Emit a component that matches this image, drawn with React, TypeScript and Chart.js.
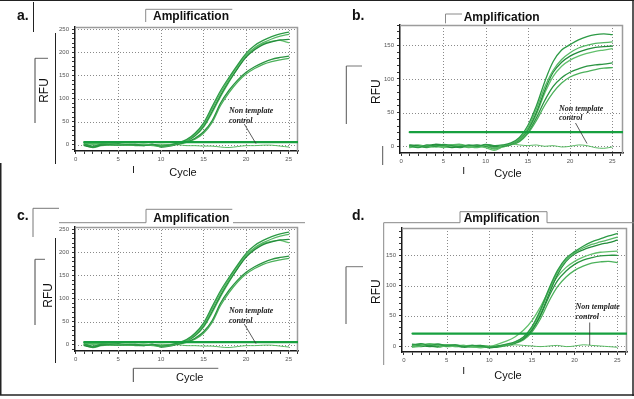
import React, { useEffect, useRef } from 'react';
import { Chart, registerables } from 'chart.js';

Chart.register(...registerables);

// ---------- data ----------
const cycles = [1, 2, 3, 4, 5, 6, 7, 8, 9, 10, 11, 12, 13, 14, 15, 16, 17, 18, 19, 20, 21, 22, 23, 24, 25];

const xTickLabels = [0, 5, 10, 15, 20, 25];
const yTicksAC = [0, 50, 100, 150, 200, 250];
const yTicksBD = [0, 50, 100, 150];

// panels a and c (same run)
const aCurve1 = [2, -4, 1, 0, -1, 0, 1, -2, 0, -3, -1, 4, 11, 25, 47, 82, 117, 146, 173, 198, 215, 226, 234, 240, 244];
const aCurve2 = [4, 1, 3, 2, 0, -1, 0, 1, -1, -4, -2, 3, 9, 22, 43, 77, 112, 142, 170, 194, 210, 221, 229, 235, 239];
const aCurve3 = [-2, -5, -1, 1, 2, 0, -1, -2, 1, -5, -3, 2, 8, 20, 40, 72, 107, 138, 165, 190, 206, 217, 223, 227, 228];
const aCurve4 = [0, 3, 1, -1, 0, 1, 0, 0, -2, -2, 0, 3, 8, 19, 38, 69, 104, 136, 166, 193, 209, 219, 224, 226, 221];
const aCurve5 = [1, -3, 0, 2, 1, -1, 0, -1, 0, -2, 0, 2, 6, 14, 28, 52, 90, 118, 140, 157, 169, 178, 185, 189, 192];
const aCurve6 = [-1, -6, -2, 0, 1, 0, -2, -1, 0, -3, -1, 1, 5, 12, 25, 48, 85, 113, 136, 153, 165, 174, 180, 184, 187];
const aNtc = [0, 2, 1, -1, 0, 1, 0, -1, 0, 1, 0, 0, -2, -2, -3, -3, -5, -6, -4, -2, -2, -1, -1, -3, -5];
const aThreshold = 5.5;

// panel b
const bCurve1 = [1, -2, 2, 0, 3, 1, -1, 2, 0, 3, 1, 2, 5, 13, 31, 60, 96, 126, 143, 151, 158, 163, 166, 167, 166];
const bCurve2 = [-2, 0, 1, -1, 0, 2, 3, 0, -2, 1, -3, 1, 4, 11, 27, 55, 88, 113, 129, 139, 146, 150, 153, 154, 155];
const bCurve3 = [2, 1, -1, 2, 1, -2, 0, 1, 2, 0, -1, 0, 3, 10, 25, 50, 83, 110, 125, 134, 140, 144, 147, 148, 149];
const bCurve4 = [-1, 2, 0, 1, -2, 0, 1, -1, 0, -2, -6, -1, 3, 9, 23, 47, 79, 104, 119, 128, 134, 138, 141, 143, 145];
const bCurve5 = [0, -1, 1, 3, 2, 0, -2, 1, -1, 2, 0, 0, 3, 8, 21, 42, 68, 89, 102, 110, 115, 119, 121, 122, 124];
const bCurve6 = [1, 0, -2, 0, 1, 2, 1, -2, 1, 0, -4, -1, 2, 7, 19, 38, 61, 80, 94, 103, 108, 111, 114, 116, 117];
const bNtc = [0, 1, -1, 2, 0, -1, 1, 0, -1, 2, 1, 0, 3, 2, 1, 2, 0, 1, -1, 0, 2, 1, -2, -3, -1];
const bThreshold = 21;

// panel d
const dCurve1 = [2, 4, 1, 3, 0, 2, -1, 1, 0, -2, 0, 3, 7, 15, 32, 60, 95, 125, 145, 156, 165, 172, 177, 182, 186];
const dCurve2 = [-2, 0, 3, 1, 2, 0, 1, -1, -2, -1, 0, 2, 6, 14, 30, 57, 92, 122, 142, 154, 162, 168, 172, 176, 180];
const dCurve3 = [3, 1, -1, 0, 2, 1, -2, 0, 1, -3, -1, 2, 5, 12, 27, 52, 86, 118, 140, 152, 159, 164, 168, 171, 175];
const dCurve4 = [0, 2, 4, 2, -1, 0, 1, -1, -3, -1, 3, 8, 15, 26, 42, 65, 92, 115, 130, 140, 147, 152, 155, 156, 157];
const dCurve5 = [1, -1, 2, 3, 1, -1, 0, 1, -1, -2, -1, 2, 5, 12, 26, 50, 82, 108, 124, 135, 142, 146, 149, 150, 150];
const dCurve6 = [-1, 3, 0, -2, 1, 2, 0, -2, 0, -1, -2, 1, 4, 10, 23, 45, 74, 98, 114, 125, 132, 137, 139, 140, 138];
const dNtc = [0, 1, 2, 0, -1, 1, 0, -1, 1, 0, -1, 0, 2, 1, 0, -1, 0, 1, -1, 0, 2, 1, 0, -1, -2];
const dThreshold = 20.5;

// ---------- styles ----------
const curveColors = ['#2c9a45', '#55b864', '#238c3b', '#62c06c', '#2a9441', '#4cb15b'];
const ntcColor = '#58b962';
const thresholdColor = '#17a03f';
const SANS = '"Liberation Sans", Arial, sans-serif';
const SERIF = '"Liberation Serif", "Times New Roman", serif';

const gridFramePlugin = {
  id: 'gridFrame',
  beforeDatasetsDraw(chart: any, _args: any, opts: any) {
    const { ctx, chartArea: a, scales } = chart;
    const x = scales.x;
    const y = scales.y;
    ctx.save();
    ctx.strokeStyle = '#8a8a8a';
    ctx.lineWidth = 1;
    ctx.setLineDash([1, 2]);
    for (const v of opts.xGrid || []) {
      const px = Math.round(x.getPixelForValue(v)) + 0.5;
      ctx.beginPath();
      ctx.moveTo(px, a.top);
      ctx.lineTo(px, a.bottom);
      ctx.stroke();
    }
    for (const v of opts.yGrid || []) {
      const py = Math.round(y.getPixelForValue(v)) + 0.5;
      ctx.beginPath();
      ctx.moveTo(a.left, py);
      ctx.lineTo(a.right, py);
      ctx.stroke();
    }
    ctx.setLineDash([]);
    ctx.strokeStyle = '#9c9c9c';
    ctx.lineWidth = 1.5;
    ctx.beginPath();
    ctx.moveTo(a.left, a.top + 0.5);
    ctx.lineTo(a.right - 0.5, a.top + 0.5);
    ctx.lineTo(a.right - 0.5, a.bottom);
    ctx.stroke();
    ctx.restore();
  },
};

type Area = { l: number; t: number; r: number; b: number };
type PanelProps = {
  area: Area;
  xRange: [number, number];
  yRange: [number, number];
  curves: number[][];
  ntc: number[];
  threshold: number;
  yLabels: number[];
};

const AX_W = 30;
const PAD_T = 6;
const PAD_R = 6;
const AX_H = 16;

function Panel({ area, xRange, yRange, curves, ntc, threshold, yLabels }: PanelProps) {
  const ref = useRef<HTMLCanvasElement>(null);
  const width = area.r - area.l + AX_W + PAD_R;
  const height = area.b - area.t + PAD_T + AX_H;

  useEffect(() => {
    const toPts = (vals: number[]) => cycles.map((c, i) => ({ x: c, y: vals[i] }));
    const datasets: any[] = [
      {
        data: [{ x: cycles[0], y: threshold }, { x: xRange[1], y: threshold }],
        borderColor: thresholdColor,
        borderWidth: 2.2,
        tension: 0,
        order: 0,
      },
      ...curves.map((vals, i) => ({
        data: toPts(vals),
        borderColor: curveColors[i % curveColors.length],
        borderWidth: 1.3,
        order: 1,
      })),
      { data: toPts(ntc), borderColor: ntcColor, borderWidth: 1, order: 2 },
    ];

    const tickFont = { size: 6, family: SANS };
    const zeroPad = (s: any) => {
      s.paddingLeft = 0;
      s.paddingRight = 0;
      s.paddingTop = 0;
      s.paddingBottom = 0;
    };

    const chart = new Chart(ref.current as HTMLCanvasElement, {
      type: 'line',
      data: { datasets },
      plugins: [gridFramePlugin as any],
      options: {
        responsive: false,
        maintainAspectRatio: false,
        animation: false,
        devicePixelRatio: 1,
        layout: { padding: { top: PAD_T, right: PAD_R, left: 0, bottom: 0 } },
        elements: {
          point: { radius: 0, hoverRadius: 0 },
          line: { tension: 0.35, fill: false, borderCapStyle: 'round' },
        },
        plugins: {
          legend: { display: false },
          tooltip: { enabled: false },
          title: { display: false },
          gridFrame: { xGrid: xTickLabels.filter((v) => v !== 0), yGrid: yLabels },
        } as any,
        scales: {
          x: {
            type: 'linear',
            min: xRange[0],
            max: xRange[1],
            afterFit: (s: any) => {
              s.height = AX_H;
              zeroPad(s);
            },
            ticks: {
              stepSize: 1,
              autoSkip: false,
              includeBounds: false,
              maxRotation: 0,
              minRotation: 0,
              padding: 2,
              color: '#555',
              font: tickFont,
              callback: (v: any) => (xTickLabels.includes(Number(v)) ? String(v) : ''),
            },
            grid: { drawOnChartArea: false, drawTicks: true, tickLength: 3, tickColor: '#333', tickWidth: 1 },
            border: { display: true, color: '#1a1a1a', width: 1.5 },
          },
          y: {
            type: 'linear',
            min: yRange[0],
            max: yRange[1],
            afterFit: (s: any) => {
              s.width = AX_W;
              zeroPad(s);
            },
            ticks: {
              stepSize: 10,
              autoSkip: false,
              includeBounds: false,
              padding: 3,
              color: '#555',
              font: tickFont,
              callback: (v: any) => (yLabels.includes(Number(v)) ? String(v) : ''),
            },
            grid: { drawOnChartArea: false, drawTicks: true, tickLength: 3, tickColor: '#333', tickWidth: 1 },
            border: { display: true, color: '#1a1a1a', width: 1.5 },
          },
        } as any,
      },
    });
    return () => chart.destroy();
  }, []);

  return (
    <canvas
      ref={ref}
      width={width}
      height={height}
      style={{ position: 'absolute', left: area.l - AX_W, top: area.t - PAD_T, width, height }}
    />
  );
}

type Seg = [number, number, number, number, string, number];

const decorLines: Seg[] = [
  // outer frame
  [0, 0.5, 634, 0.5, '#222', 1],
  [633, 0, 633, 396, '#222', 1.5],
  [0, 395, 634, 395, '#222', 1.5],
  [0.75, 163, 0.75, 395, '#222', 1.5],
  // panel a
  [33.5, 2, 33.5, 32, '#222', 1],
  [145.7, 9.3, 145.7, 22, '#8a8a8a', 1],
  [145.7, 9.3, 232.3, 9.3, '#8a8a8a', 1],
  [35, 58.3, 48, 58.3, '#666', 1],
  [35, 58.3, 35, 123, '#444', 1],
  [55.5, 33, 55.5, 164, '#222', 1],
  [133.5, 166, 133.5, 173, '#222', 1],
  // panel b
  [445.5, 14, 445.5, 23.3, '#8a8a8a', 1],
  [445.5, 14, 462, 14, '#8a8a8a', 1],
  [346.3, 66, 362, 66, '#777', 1],
  [346.3, 66, 346.3, 124, '#555', 1],
  [382.7, 146, 382.7, 165, '#555', 1],
  [463.7, 167, 463.7, 174, '#222', 1],
  // panel c
  [33, 208.3, 33, 237, '#777', 1],
  [33, 208.3, 59, 208.3, '#777', 1],
  [59, 222.7, 146, 222.7, '#888', 1],
  [146, 209.3, 146, 222.7, '#888', 1],
  [146, 209.3, 232.3, 209.3, '#888', 1],
  [233, 222.7, 305, 222.7, '#888', 1],
  [35, 259.3, 35, 325, '#444', 1],
  [35, 259.3, 45, 259.3, '#666', 1],
  [55.5, 238, 55.5, 363, '#222', 1],
  [133.3, 368.3, 133.3, 382, '#444', 1],
  [133.3, 368.3, 218.3, 368.3, '#666', 1],
  // panel d
  [383.7, 222.7, 460, 222.7, '#888', 1],
  [460, 211.7, 460, 222.7, '#888', 1],
  [460, 211.7, 547, 211.7, '#888', 1],
  [547, 211.7, 547, 222.7, '#888', 1],
  [547, 222.7, 634, 222.7, '#888', 1],
  [383.7, 222.7, 383.7, 365, '#888', 1],
  [346, 266.7, 363, 266.7, '#777', 1],
  [346, 266.7, 346, 324, '#555', 1],
  [463.7, 367, 463.7, 374, '#222', 1],
  // annotation leaders
  [244.3, 124, 256, 143.7, '#333', 0.8],
  [244.3, 324, 256, 343.7, '#333', 0.8],
  [575.5, 123, 587, 143.5, '#333', 0.8],
  [589.7, 322.5, 589.7, 345, '#333', 0.8],
];

type Label = { text: string; x: number; y: number; size: number; bold?: boolean; anchor?: string };

const panelLetters: Label[] = [
  { text: 'a.', x: 17, y: 20, size: 14, bold: true },
  { text: 'b.', x: 352, y: 20, size: 14, bold: true },
  { text: 'c.', x: 17, y: 220, size: 14, bold: true },
  { text: 'd.', x: 352, y: 220, size: 14, bold: true },
];
const titles: Label[] = [
  { text: 'Amplification', x: 153, y: 20.3, size: 12, bold: true },
  { text: 'Amplification', x: 463.7, y: 20.5, size: 12, bold: true },
  { text: 'Amplification', x: 153.3, y: 221.5, size: 12, bold: true },
  { text: 'Amplification', x: 463.7, y: 222, size: 12, bold: true },
];
const xTitles: Label[] = [
  { text: 'Cycle', x: 183, y: 175.5, size: 11, anchor: 'middle' },
  { text: 'Cycle', x: 508, y: 177, size: 11, anchor: 'middle' },
  { text: 'Cycle', x: 189.7, y: 381, size: 11, anchor: 'middle' },
  { text: 'Cycle', x: 508, y: 378.5, size: 11, anchor: 'middle' },
];
const yTitles: Label[] = [
  { text: 'RFU', x: 47.5, y: 90.5, size: 12 },
  { text: 'RFU', x: 380, y: 91.7, size: 12 },
  { text: 'RFU', x: 51.5, y: 295.3, size: 12 },
  { text: 'RFU', x: 380, y: 291.7, size: 12 },
];
const ntcNotes: [number, number, number][] = [
  [229, 112.5, 122.5],
  [229, 312.5, 322.5],
  [559, 110.5, 119.5],
  [575.5, 309, 319],
];

export default function App() {
  return (
    <div style={{ position: 'absolute', left: 0, top: 0, width: 634, height: 399, background: '#fff', overflow: 'hidden' }}>
      <Panel
        area={{ l: 75, t: 27, r: 298, b: 151 }}
        xRange={[-0.08, 26.09]}
        yRange={[-13.6, 255]}
        curves={[aCurve1, aCurve2, aCurve3, aCurve4, aCurve5, aCurve6]}
        ntc={aNtc}
        threshold={aThreshold}
        yLabels={yTicksAC}
      />
      <Panel
        area={{ l: 400, t: 25, r: 623, b: 153 }}
        xRange={[-0.15, 26.27]}
        yRange={[-9.95, 180.2]}
        curves={[bCurve1, bCurve2, bCurve3, bCurve4, bCurve5, bCurve6]}
        ntc={bNtc}
        threshold={bThreshold}
        yLabels={yTicksBD}
      />
      <Panel
        area={{ l: 75, t: 227, r: 298, b: 351 }}
        xRange={[-0.08, 26.09]}
        yRange={[-13.6, 255]}
        curves={[aCurve1, aCurve2, aCurve3, aCurve4, aCurve5, aCurve6]}
        ntc={aNtc}
        threshold={aThreshold}
        yLabels={yTicksAC}
      />
      <Panel
        area={{ l: 402, t: 228, r: 627, b: 352 }}
        xRange={[-0.23, 26.14]}
        yRange={[-9.9, 195.1]}
        curves={[dCurve1, dCurve2, dCurve3, dCurve4, dCurve5, dCurve6]}
        ntc={dNtc}
        threshold={dThreshold}
        yLabels={yTicksBD}
      />
      <svg
        width={634}
        height={399}
        style={{ position: 'absolute', left: 0, top: 0, pointerEvents: 'none' }}
      >
        {decorLines.map(([x1, y1, x2, y2, c, w], i) => (
          <line key={'l' + i} x1={x1} y1={y1} x2={x2} y2={y2} stroke={c} strokeWidth={w} />
        ))}
        {[...panelLetters, ...titles, ...xTitles].map((t, i) => (
          <text
            key={'t' + i}
            x={t.x}
            y={t.y}
            fontFamily={SANS}
            fontSize={t.size}
            fontWeight={t.bold ? 'bold' : 'normal'}
            textAnchor={t.anchor || 'start'}
            fill="#111"
          >
            {t.text}
          </text>
        ))}
        {yTitles.map((t, i) => (
          <text
            key={'y' + i}
            transform={`translate(${t.x},${t.y}) rotate(-90)`}
            fontFamily={SANS}
            fontSize={t.size}
            textAnchor="middle"
            fill="#111"
          >
            {t.text}
          </text>
        ))}
        {ntcNotes.map(([x, y1, y2], i) => (
          <g key={'n' + i} fontFamily={SERIF} fontSize={8} fontStyle="italic" fontWeight="bold" fill="#222">
            <text x={x} y={y1}>Non template</text>
            <text x={x} y={y2}>control</text>
          </g>
        ))}
      </svg>
    </div>
  );
}
